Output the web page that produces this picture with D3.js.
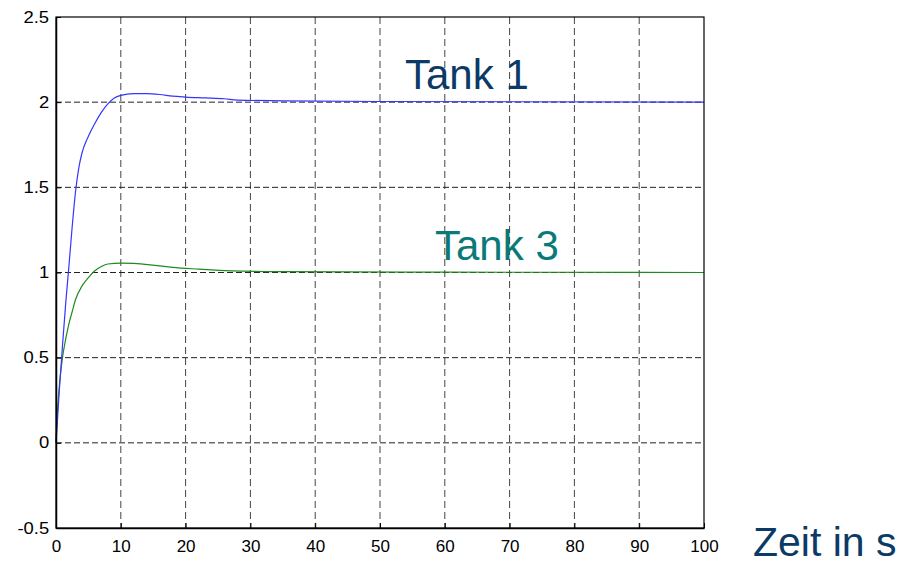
<!DOCTYPE html>
<html>
<head>
<meta charset="utf-8">
<script src="https://cdn.jsdelivr.net/npm/d3@7"></script>
<style>
  body { margin: 0; background: #fff; }
  svg { display: block; font-family: "Liberation Sans", Arial, sans-serif; }
</style>
</head>
<body>
<div id="chart"></div>
<script>
// time axis ticks and value ticks
const xTicks = [0, 10, 20, 30, 40, 50, 60, 70, 80, 90, 100];
const yTicks = [-0.5, 0, 0.5, 1, 1.5, 2, 2.5];

// Tank 1 step response
const tank1Time = [0, 0.5, 1, 1.5, 2, 2.5, 3, 3.5, 4, 5, 6, 7, 8, 9, 10, 12, 14, 16, 18, 20, 23, 26, 28, 35, 50, 100];
const tank1Level = [0, 0.3, 0.57, 0.82, 1.04, 1.27, 1.47, 1.61, 1.7, 1.8, 1.875, 1.94, 1.99, 2.025, 2.04, 2.05, 2.05, 2.045, 2.035, 2.03, 2.025, 2.02, 2.012, 2.008, 2.004, 2.0];

// Tank 3 step response
const tank3Time = [0, 0.2, 0.6, 1, 1.5, 2, 2.5, 3, 4, 5, 6, 7, 8, 10, 12, 15, 18, 22, 27, 35, 60, 100];
const tank3Level = [0, 0.17, 0.37, 0.5, 0.61, 0.7, 0.77, 0.84, 0.92, 0.97, 1.01, 1.035, 1.05, 1.055, 1.053, 1.043, 1.03, 1.02, 1.01, 1.005, 1.002, 1.0];

const W = 909, H = 565;
const margin = {left: 56, right: 205, top: 17, bottom: 37};

const svg = d3.select("#chart").append("svg")
    .attr("width", W)
    .attr("height", H);

const x = d3.scaleLinear().domain([0, 100]).range([margin.left, W - margin.right]);
const y = d3.scaleLinear().domain([-0.5, 2.5]).range([H - margin.bottom, margin.top]);

// dashed grid, only inside the box
svg.append("g")
    .selectAll("line")
    .data(xTicks.slice(1, -1))
    .enter().append("line")
    .attr("x1", d => x(d)).attr("x2", d => x(d))
    .attr("y1", y(2.5)).attr("y2", y(-0.5))
    .attr("stroke", "#444")
    .attr("stroke-dasharray", "7,4");

svg.append("g")
    .selectAll("line")
    .data(yTicks.slice(1, -1))
    .enter().append("line")
    .attr("x1", x(0)).attr("x2", x(100))
    .attr("y1", d => y(d)).attr("y2", d => y(d))
    .attr("stroke", "#222")
    .attr("stroke-dasharray", "6,3");

// curves
const line = d3.line()
    .curve(d3.curveMonotoneX)
    .x(d => x(d[0]))
    .y(d => y(d[1]));

svg.append("path")
    .datum(d3.zip(tank3Time, tank3Level))
    .attr("fill", "none")
    .attr("stroke", "#1f8a1f")
    .attr("stroke-width", 1.2)
    .attr("d", line);

svg.append("path")
    .datum(d3.zip(tank1Time, tank1Level))
    .attr("fill", "none")
    .attr("stroke", "#3535ff")
    .attr("stroke-width", 1.2)
    .attr("d", line);

// axes (matlab style: ticks point inwards)
const xAxis = svg.append("g")
    .attr("transform", `translate(0,${y(-0.5)})`)
    .call(d3.axisBottom(x).tickValues(xTicks).tickSizeInner(-5).tickSizeOuter(0).tickPadding(14));

const yAxis = svg.append("g")
    .attr("transform", `translate(${x(0)},0)`)
    .call(d3.axisLeft(y).tickValues(yTicks).tickSizeInner(-5).tickSizeOuter(0).tickPadding(12)
        .tickFormat(d => String(d)));

[xAxis, yAxis].forEach(a => {
    a.attr("font-size", null);
    a.select(".domain").attr("stroke", "#000").attr("stroke-width", 1.5);
    a.selectAll(".tick line").attr("stroke", "#000");
    a.selectAll("text").attr("fill", "#000")
        .attr("font-family", "'Liberation Sans', Arial, sans-serif");
});
xAxis.selectAll("text").style("font-size", "17px").attr("dy", "0.6em");
// y labels look a bit wider in the picture
yAxis.selectAll("text").style("font-size", "16px").attr("x", -6).attr("transform", "scale(1.15,1)");

// box
svg.append("rect")
    .attr("x", x(0)).attr("y", y(2.5))
    .attr("width", x(100) - x(0))
    .attr("height", y(-0.5) - y(2.5))
    .attr("fill", "none")
    .attr("stroke", "#000")
    .attr("stroke-width", 1.2);

// labels
svg.append("text")
    .attr("x", 405).attr("y", 89)
    .attr("font-size", 42)
    .attr("fill", "#0b3a66")
    .text("Tank 1");

svg.append("text")
    .attr("x", 435).attr("y", 260)
    .attr("font-size", 42)
    .attr("fill", "#0a7a78")
    .text("Tank 3");

svg.append("text")
    .attr("x", 753).attr("y", 556)
    .attr("font-size", 41)
    .attr("fill", "#0b3a66")
    .text("Zeit in s");
</script>
</body>
</html>
